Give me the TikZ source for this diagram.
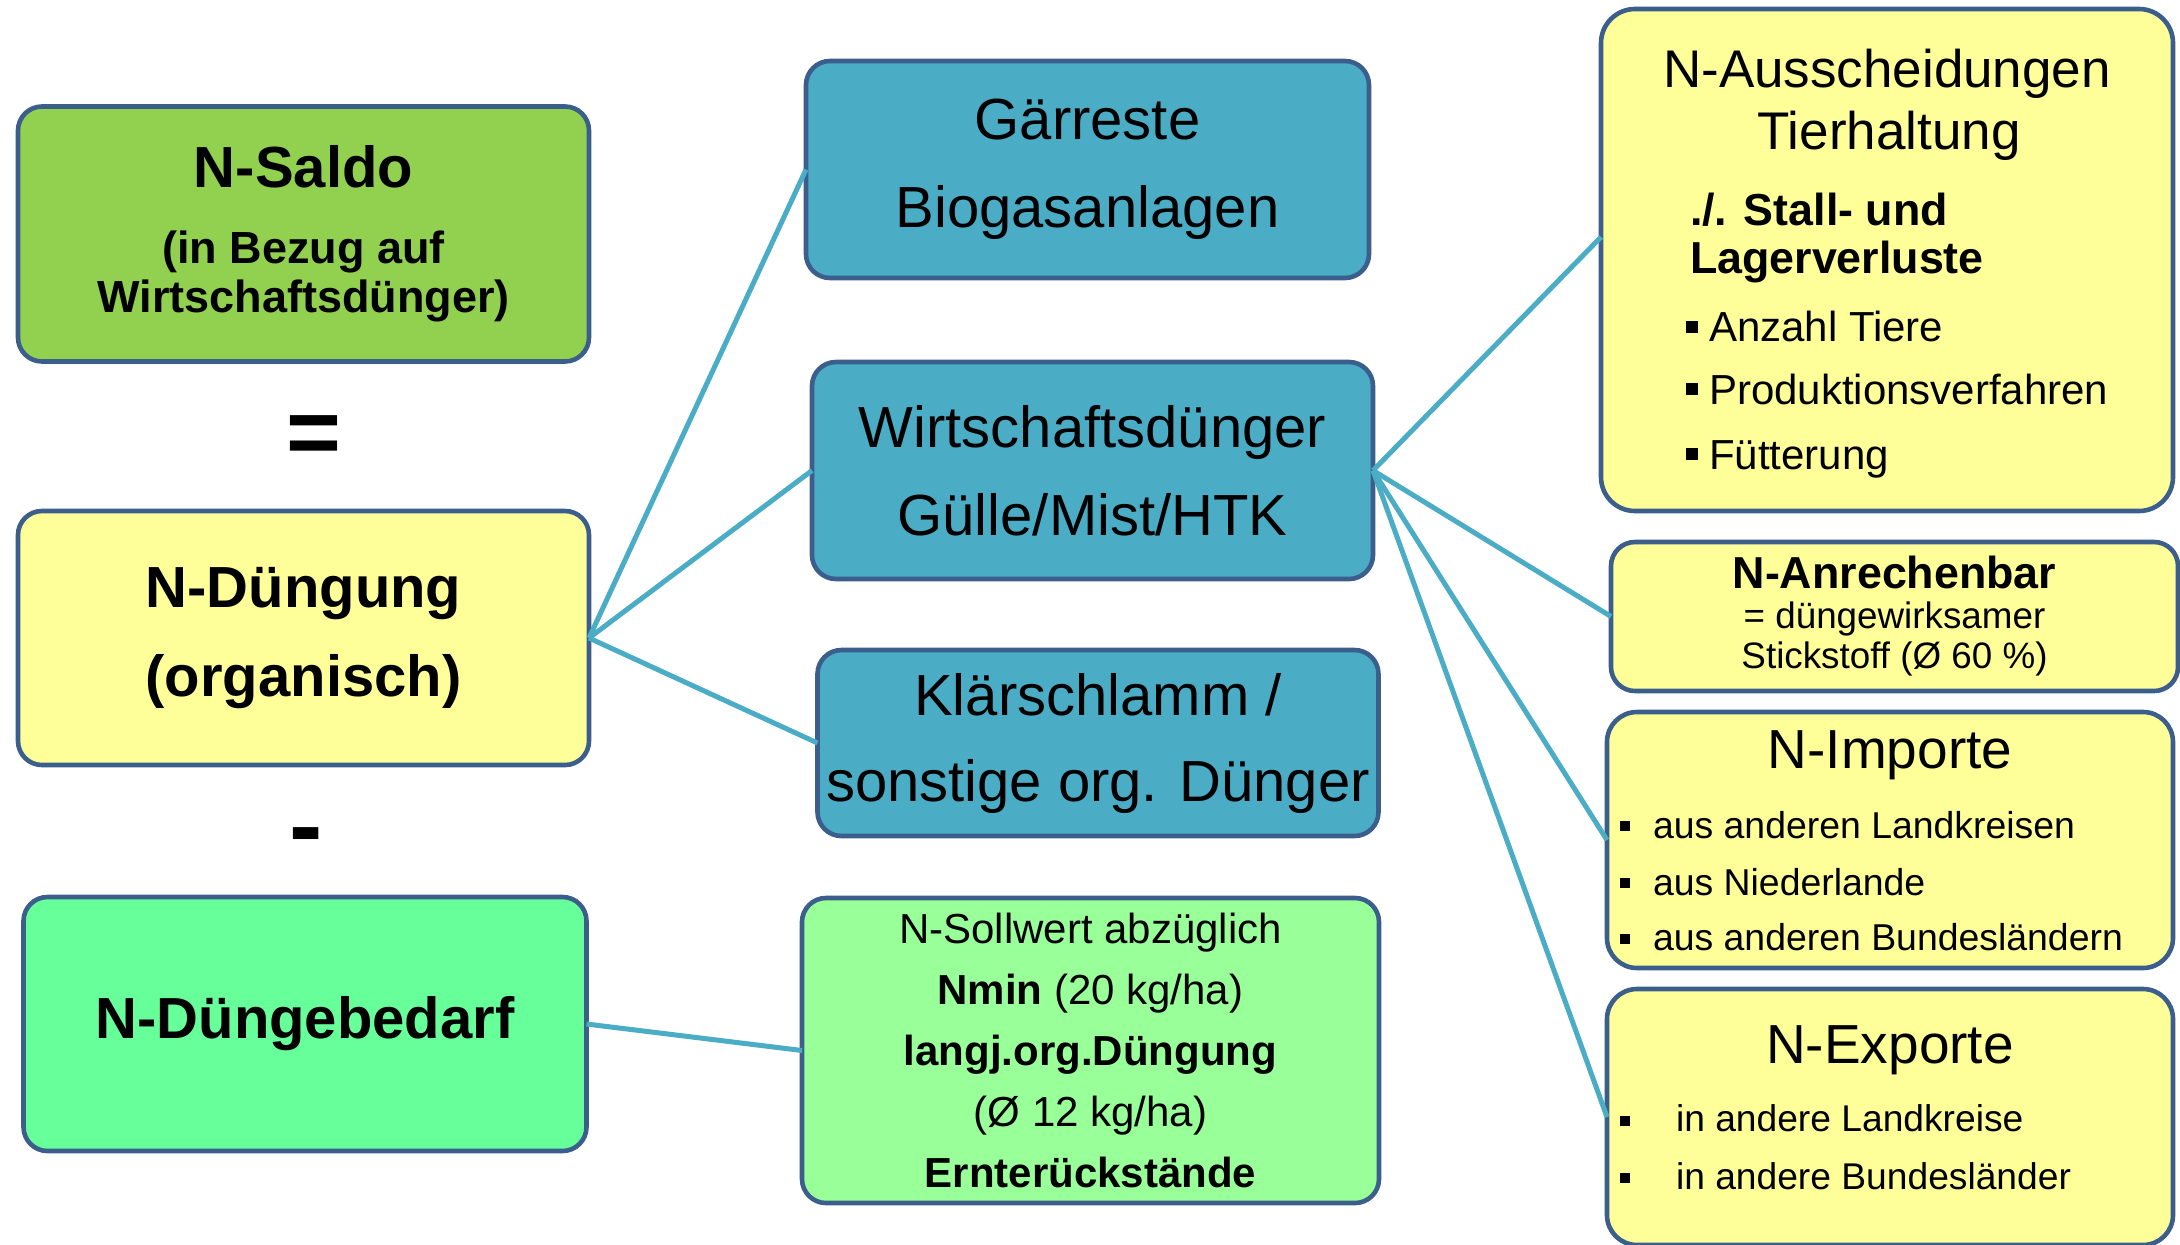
\documentclass[tikz,border=0pt]{standalone}
\usepackage{fontspec}
\setmainfont{Liberation Sans}

\definecolor{boxline}{RGB}{59,94,140}
\definecolor{linkblue}{RGB}{75,172,198}
\definecolor{saldogreen}{RGB}{146,208,80}
\definecolor{paleyellow}{RGB}{255,255,153}
\definecolor{tealblue}{RGB}{75,172,198}
\definecolor{mintgreen}{RGB}{102,255,153}
\definecolor{palegreen}{RGB}{153,255,153}

\tikzset{
  box/.style={draw=boxline, line width=2.3pt, rounded corners=12pt, inner sep=0pt, outer sep=0pt, align=center},
  link/.style={linkblue, line width=2.5pt},
  txt/.style={inner sep=0pt, outer sep=0pt},
}

\begin{document}
\begin{tikzpicture}[x=0.5pt, y=-0.5pt]

\fill[white] (0,0) rectangle (2180,1244);
\useasboundingbox (0,0) rectangle (2180,1244);

% left column
\node[box, fill=saldogreen, minimum width=285.5pt, minimum height=127.5pt, font=\fontsize{22.5}{24.5}\selectfont\bfseries] (saldo) at (303.5,234) {{\fontsize{29}{29}\selectfont N-Saldo}\\[13.5pt](in Bezug auf\\Wirtschaftsdünger)};
\node[txt, font=\fontsize{47}{47}\selectfont\bfseries] (eq) at (314,440) {=};
\node[box, fill=paleyellow, minimum width=285.5pt, minimum height=127pt, font=\fontsize{29}{44.75}\selectfont\bfseries] (dueng) at (303.5,638) {N-Düngung\\(organisch)};
\node[txt, font=\fontsize{50}{50}\selectfont\bfseries] (minus) at (306,844) {-};
\node[box, fill=mintgreen, minimum width=281.5pt, minimum height=127pt, font=\fontsize{29}{29}\selectfont\bfseries] (bedarf) at (305,1024) {N-Düngebedarf};

% middle column
\node[box, fill=tealblue, minimum width=281.5pt, minimum height=108.5pt, font=\fontsize{29}{44}\selectfont] (gaer) at (1087.5,169.5) {Gärreste\\Biogasanlagen};
\node[box, fill=tealblue, minimum width=280.5pt, minimum height=108.5pt, font=\fontsize{29}{44}\selectfont] (wirt) at (1092.5,470.5) {Wirtschaftsdünger\\Gülle/Mist/HTK};
\node[box, fill=tealblue, minimum width=280.5pt, minimum height=93pt, font=\fontsize{29}{43}\selectfont] (klaer) at (1098,743) {Klärschlamm /\\sonstige org. Dünger};
\node[box, fill=palegreen, minimum width=288.5pt, minimum height=152.5pt, font=\fontsize{21}{30.5}\selectfont] (soll) at (1090.5,1050.5) {N-Sollwert abzüglich\\\textbf{Nmin} (20 kg/ha)\\\textbf{langj.org.Düngung}\\(Ø 12 kg/ha)\\\textbf{Ernterückstände}};

% right column
\node[box, fill=paleyellow, rounded corners=17pt, minimum width=286pt, minimum height=251pt] (aus) at (1887,260) {};
\node[txt, anchor=base, font=\fontsize{26.5}{26.5}\selectfont] (aus1) at (1887,87) {N-Ausscheidungen};
\node[txt, anchor=base, font=\fontsize{26.5}{26.5}\selectfont] (aus2) at (1889,149.5) {Tierhaltung};
\node[txt, anchor=base west, font=\fontsize{22.4}{22.4}\selectfont\bfseries] (aus3) at (1690,225.5) {./. Stall- und};
\node[txt, anchor=base west, font=\fontsize{22.4}{22.4}\selectfont\bfseries] (aus4) at (1690,273) {Lagerverluste};
\node[txt, anchor=base west, font=\fontsize{21}{21}\selectfont] (aus5) at (1686,341.5) {\rule[4.5pt]{6pt}{6pt}\hspace{5.5pt}Anzahl Tiere};
\node[txt, anchor=base west, font=\fontsize{21}{21}\selectfont] (aus6) at (1686,404) {\rule[4.5pt]{6pt}{6pt}\hspace{5.5pt}Produktionsverfahren};
\node[txt, anchor=base west, font=\fontsize{21}{21}\selectfont] (aus7) at (1686,469) {\rule[4.5pt]{6pt}{6pt}\hspace{5.5pt}Fütterung};

\node[box, fill=paleyellow, minimum width=283.5pt, minimum height=74.5pt, font=\fontsize{18.4}{20}\selectfont] (anr) at (1894.5,616.5) {{\fontsize{22.4}{22.4}\selectfont\bfseries N-Anrechenbar}\\= düngewirksamer\\Stickstoff (Ø 60 \%)};

\node[box, fill=paleyellow, rounded corners=15pt, minimum width=283pt, minimum height=128pt] (imp) at (1890,840) {};
\node[txt, anchor=base, font=\fontsize{27.5}{27.5}\selectfont] (imp1) at (1890,768) {N-Importe};
\node[txt, anchor=base west, font=\fontsize{18.7}{18.7}\selectfont] (imp2) at (1620,838) {\rule[3.5pt]{5pt}{5pt}\hspace{11.5pt}aus anderen Landkreisen};
\node[txt, anchor=base west, font=\fontsize{18.7}{18.7}\selectfont] (imp3) at (1620,895) {\rule[3.5pt]{5pt}{5pt}\hspace{11.5pt}aus Niederlande};
\node[txt, anchor=base west, font=\fontsize{18.7}{18.7}\selectfont] (imp4) at (1620,950.5) {\rule[3.5pt]{5pt}{5pt}\hspace{11.5pt}aus anderen Bundesländern};

\node[box, fill=paleyellow, rounded corners=15pt, minimum width=283pt, minimum height=128pt] (exp) at (1890,1117) {};
\node[txt, anchor=base, font=\fontsize{27.5}{27.5}\selectfont] (exp1) at (1890,1063) {N-Exporte};
\node[txt, anchor=base west, font=\fontsize{18.6}{18.6}\selectfont] (exp2) at (1620,1131.5) {\rule[2.8pt]{5pt}{5pt}\hspace{23pt}in andere Landkreise};
\node[txt, anchor=base west, font=\fontsize{18.6}{18.6}\selectfont] (exp3) at (1620,1189) {\rule[2.8pt]{5pt}{5pt}\hspace{23pt}in andere Bundesländer};

% connectors
\draw[link] (dueng.east) -- (gaer.west);
\draw[link] (dueng.east) -- (wirt.west);
\draw[link] (dueng.east) -- (klaer.west);
\draw[link] (bedarf.east) -- (soll.west);
\draw[link] (wirt.east) -- ([yshift=11.5pt]aus.west);
\draw[link] (wirt.east) -- (anr.west);
\draw[link] (wirt.east) -- (imp.west);
\draw[link] (wirt.east) -- (exp.west);

\end{tikzpicture}
\end{document}
